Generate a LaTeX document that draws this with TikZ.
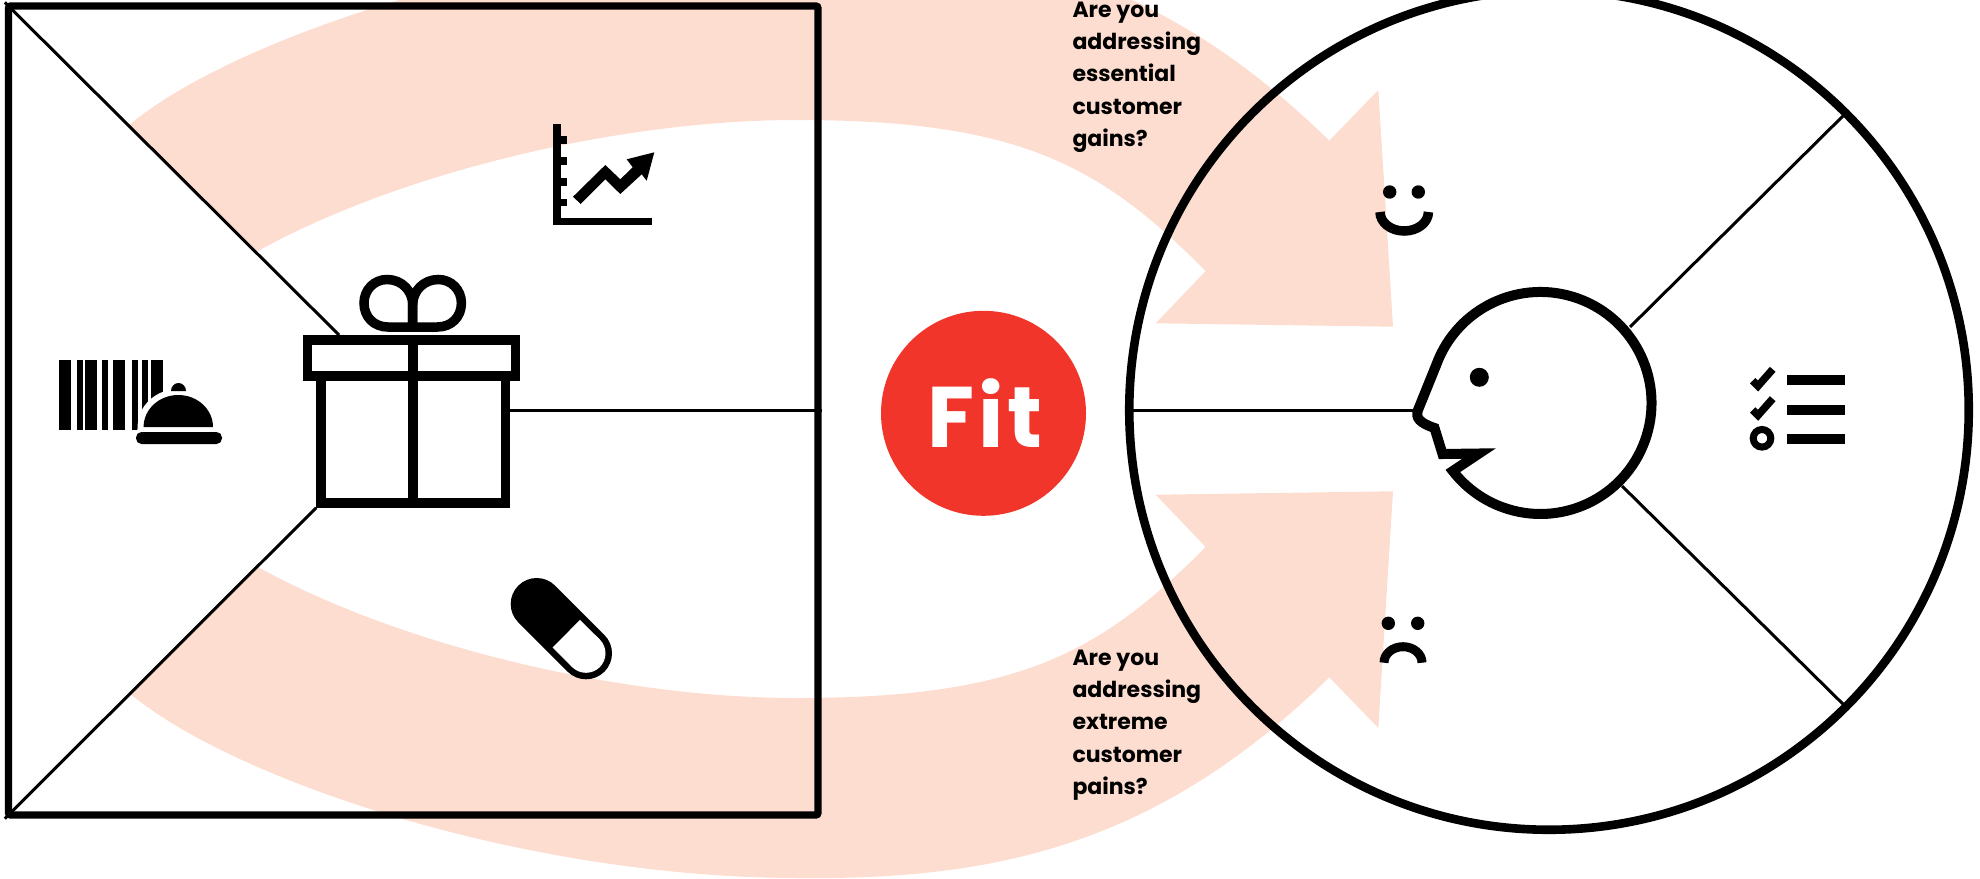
\documentclass[tikz,border=0pt]{standalone}
\usepackage{fontspec}
\setmainfont{Poppins}
\newfontfamily\fitfont{Poppins}[LetterSpace=4]
\usepackage{xcolor}
\usepackage{tikz}
\usetikzlibrary{arrows.meta,positioning,calc}
\definecolor{bandpeach}{HTML}{FDDDD0}
\definecolor{fitred}{HTML}{F1352B}

\begin{document}
\begin{tikzpicture}[
    x=1pt, y=-1pt,
    band/.style={fill=bandpeach},
    canvasbox/.style={draw, rounded corners=2pt, line width=7.2pt, minimum width=809.5pt, minimum height=809pt, inner sep=0pt},
    profilering/.style={draw, circle, line width=8.6pt, minimum size=839.5pt, inner sep=0pt},
    fitdot/.style={circle, fill=fitred, text=white, minimum size=205pt, inner sep=0pt, font=\fontsize{86}{86}\fitfont\bfseries},
    giftpart/.style={draw, line width=9.5pt, inner sep=0pt},
    thinline/.style={line width=3pt},
    question/.style={anchor=base west, align=left, inner sep=0pt, font=\fontsize{22}{32.4}\selectfont\bfseries}
]
\useasboundingbox (0,0) rectangle (1980,878);

\foreach \flip/\off in {1/0,-1/818} {
  \fill[band, shift={(0,\off)}, yscale=\flip]
    (129.3,125) .. controls (230,40) and (520,-60) .. (800,-60)
    .. controls (1000,-62) and (1160,-25) .. (1329.3,140.7)
    -- (1378.3,90) -- (1393,326.7) -- (1155.7,323.3) -- (1205.7,271)
    .. controls (1100,165) and (1020,120) .. (796,120)
    .. controls (620,120) and (400,172) .. (256.7,251.7)
    -- cycle;
}

\node[canvasbox] (canvas) at (413.2,410.5) {};
\node[profilering] (profile) at (1549,410) {};
\node[fitdot] (fit) at (983.5,413.3) {\raisebox{-4pt}{\hspace{3pt}Fit}};

\node[giftpart, minimum width=184.5pt, minimum height=127pt] (giftbox) at (413.2,439.5) {};
\node[giftpart, minimum width=208pt, minimum height=36pt] (giftlid) at (411.5,358) {};
\coordinate (lidtop) at (339,335);
\coordinate (facenose) at (1413,410);
\coordinate (faceup) at (1630,327);
\coordinate (facedown) at (1622,486);

\draw[thinline] (canvas.north west) -- (lidtop);
\draw[thinline] (canvas.south west) -- (giftbox.south west);
\draw[thinline] (canvas.east -| giftbox.east) -- (canvas.east);
\draw[thinline] (profile.west) -- (facenose);
\draw[thinline] (profile.45) -- (faceup);
\draw[thinline] (profile.-45) -- (facedown);

\draw[line width=10pt] (413,340) -- (413,503);
\draw[line width=9.5pt] (412.7,327) -- (388,327) .. controls (374,327) and (364,317) .. (364,303) .. controls (364,290) and (374,279.5) .. (387,279.5) .. controls (402,279.5) and (412.7,291) .. (412.7,305) -- cycle;
\draw[line width=9.5pt] (412.7,327) -- (437.4,327) .. controls (451.4,327) and (461.4,317) .. (461.4,303) .. controls (461.4,290) and (451.4,279.5) .. (438.4,279.5) .. controls (423.4,279.5) and (412.7,291) .. (412.7,305) -- cycle;

\foreach \xa/\xb in {59/71,77/83,85/97,102/108,113/125,132/138,142/148,151/163}
  \fill (\xa,360) rectangle (\xb,430);
\draw[white, line width=12pt] (143.6,427) arc[start angle=180, delta angle=180, x radius=34.7, y radius=32] -- cycle;
\fill (143.6,427) arc[start angle=180, delta angle=180, x radius=34.7, y radius=32] -- cycle;
\fill (171,391) arc[start angle=180, delta angle=180, x radius=7.5, y radius=8] -- cycle;
\fill[white] (130,430) rectangle (230,450);
\fill[rounded corners=5.5pt] (136,432) rectangle (222,444);

\fill (553.3,124) rectangle (560.7,225);
\fill (553.3,217.7) rectangle (651.7,225);
\foreach \ya/\yb in {136/144,156.7/165,177.7/186,198.7/206}
  \fill (560,\ya) rectangle (567,\yb);
\fill (573,196.7) -- (605.3,165) -- (620.3,179.3) -- (632.7,167.3) -- (626.7,159.3) -- (654.3,152.3) -- (646.7,180.7) -- (641.7,174.3) -- (620.3,194) -- (605.3,179.3) -- (580.7,204) -- cycle;

\draw[line width=52pt, line cap=round] (536.7,604) -- (586,653.3);
\draw[white, line width=39pt] (566.3,633.7) -- (586,653.3);
\fill[white] (586,653.3) circle (19.5pt);

\draw[line width=10pt, fill=white] (1436.2,365) arc[start angle=200, end angle=502.2, radius=111] -- (1479,453.5) -- (1442.5,454) -- (1434.5,428) .. controls (1420,423) and (1415,418) .. (1418,410) -- cycle;
\fill (1479.3,377.3) circle (9.5pt);

\fill (1389.7,192) circle (6.7pt);
\fill (1418.3,192) circle (6.7pt);
\draw[line width=9.5pt] (1380,212) arc[start angle=180, delta angle=-180, x radius=24.2, y radius=19];
\fill (1388.3,623.3) circle (6.7pt);
\fill (1417.7,623.3) circle (6.7pt);
\draw[line width=9pt] (1384,662.7) arc[start angle=180, delta angle=180, x radius=19, y radius=16];

\draw[line width=7.5pt] (1752.7,380.7) -- (1758,386) -- (1772.7,369.3);
\draw[line width=7.5pt] (1752.7,410) -- (1758,415.3) -- (1772.7,398.7);
\draw[line width=7pt] (1762,438.3) circle (8.8pt);
\foreach \ya/\yb in {375/385,405/415,434/444}
  \fill (1786.7,\ya) rectangle (1845,\yb);

\node[question] (gainsq) at (1072.3,146.7) {Are you\\addressing\\essential\\customer\\gains?};
\node[question] (painsq) at (1072.3,794.6) {Are you\\addressing\\extreme\\customer\\pains?};
\end{tikzpicture}
\end{document}
